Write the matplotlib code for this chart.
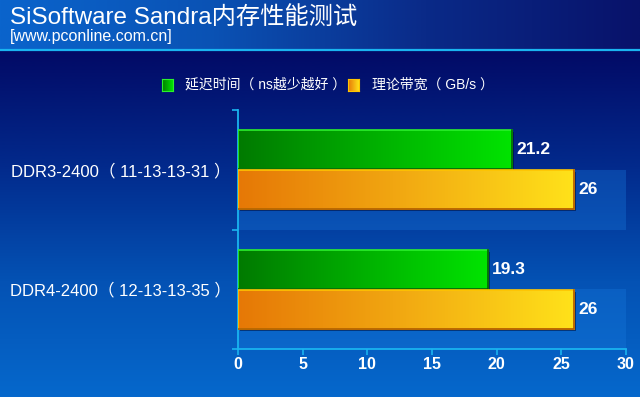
"""SiSoftware Sandra memory benchmark bar chart."""

import numpy as np
import matplotlib.pyplot as plt
import matplotlib.transforms as mtransforms
from matplotlib.colors import LinearSegmentedColormap
from matplotlib.patches import Rectangle

plt.rcParams['font.family'] = ['Liberation Sans', 'Noto Sans CJK SC', 'DejaVu Sans']

title = "SiSoftware Sandra内存性能测试"
subtitle = "[www.pconline.com.cn]"
categories = ["DDR3-2400（ 11-13-13-31 ）", "DDR4-2400（ 12-13-13-35 ）"]
latency = [21.2, 19.3]
bandwidth = [26, 26]
series_names = ["延迟时间（ ns越少越好 ）", "理论带宽（ GB/s ）"]
x_ticks = [0, 5, 10, 15, 20, 25, 30]

W, H = 640, 397
fig = plt.figure(figsize=(W / 100, H / 100), dpi=100)

# background: header + body gradients
bg = fig.add_axes([0, 0, 1, 1], zorder=-10)
bg.set_axis_off()
bg.set_xlim(0, W)
bg.set_ylim(H, 0)
header_cmap = LinearSegmentedColormap.from_list("hdr", ["#0a64cc", "#0a52b4", "#0a2a88", "#08126a"])
body_cmap = LinearSegmentedColormap.from_list("body", ["#020a66", "#022a8c", "#0452b4", "#0668cc"])
bg.imshow(np.linspace(0, 1, 256)[None, :], cmap=header_cmap, extent=(0, W, 49, 0),
          aspect="auto", interpolation="bilinear")
bg.imshow(np.linspace(0, 1, 256)[:, None], cmap=body_cmap, extent=(0, W, H, 51),
          aspect="auto", interpolation="bilinear", origin="upper")
bg.axhline(50, color="#1ab4f0", lw=1.6)

fig.text(10 / W, 1 - 17.5 / H, title, color="white", fontsize=17.5, va="center", ha="left")
fig.text(10 / W, 1 - 36 / H, subtitle, color="white", fontsize=11.5, va="center", ha="left")

ax = fig.add_axes([238 / W, 1 - 349 / H, 388 / W, 239 / H])
ax.set_facecolor("none")

green_cmap = LinearSegmentedColormap.from_list("g", ["#007a00", "#00b000", "#00e400"])
orange_cmap = LinearSegmentedColormap.from_list("o", ["#e67806", "#f2aa12", "#ffe21a"])
grad = np.linspace(0, 1, 256)[None, :]

centers = np.arange(len(categories))[::-1]
h = 0.325
shadow = ax.transData + mtransforms.ScaledTranslation(2 / 100, -2 / 100, fig.dpi_scale_trans)

for c, lat, bw in zip(centers, latency, bandwidth):
    # lighter band in lower half of each category
    ax.axhspan(c - 0.5, c, color="#1878dc", alpha=0.35, lw=0, zorder=1)
    for val, y0, cmap, edge, dark in [
        (lat, c + 0.005, green_cmap, "#2cf02c", "#006000"),
        (bw, c - 0.005 - h, orange_cmap, "#ffc400", "#b05a00"),
    ]:
        ax.add_patch(Rectangle((0, y0), val, h, facecolor="#000830", alpha=0.5,
                               lw=0, transform=shadow, zorder=2))
        ax.imshow(grad, cmap=cmap, extent=(0, val, y0, y0 + h), aspect="auto",
                  interpolation="bilinear", zorder=3)
        ax.add_patch(Rectangle((0, y0), val, h, facecolor="none", edgecolor=edge,
                               lw=1.2, zorder=4))
        ax.plot([val, val, 0], [y0 + h, y0, y0], color=dark, lw=1.2, zorder=4)
        ax.text(val + 0.35, y0 + h / 2, f"{val:g}", color="white", fontsize=12.5,
                fontweight="bold", va="center", ha="left", zorder=5)

ax.set_xlim(0, 30)
ax.set_ylim(-0.5, len(categories) - 0.5)
ax.set_aspect("auto")

for side in ["top", "right"]:
    ax.spines[side].set_visible(False)
for side in ["left", "bottom"]:
    ax.spines[side].set_color("#1ab4f0")
    ax.spines[side].set_linewidth(1.3)

ax.set_xticks(x_ticks)
ax.set_xticklabels([str(t) for t in x_ticks], color="white", fontsize=11.5, fontweight="bold")
ax.tick_params(axis="x", colors="#1ab4f0", length=4, width=1.2, pad=1.5, labelcolor="white")

ax.set_yticks(centers)
ax.set_yticklabels(categories, color="white", fontsize=12)
ax.set_yticks(np.arange(-0.5, len(categories), 1.0), minor=True)
ax.tick_params(axis="y", which="major", length=0, pad=5, labelcolor="white")
ax.tick_params(axis="y", which="minor", colors="#1ab4f0", length=4, width=1.2)

# legend drawn by hand so the items sit where the reference has them
leg_y = 1 - 85 / H
for x_mark, x_text, cmap, edge, name in [
    (162, 185, green_cmap, "#2cf02c", series_names[0]),
    (348, 372, orange_cmap, "#ffc400", series_names[1]),
]:
    lax = fig.add_axes([x_mark / W, 1 - 91 / H, 11 / W, 12 / H])
    lax.imshow(grad, cmap=cmap, aspect="auto", extent=(0, 1, 0, 1))
    lax.set_xticks([])
    lax.set_yticks([])
    for s in lax.spines.values():
        s.set_color(edge)
        s.set_linewidth(0.8)
    fig.text(x_text / W, leg_y, name, color="white", fontsize=10, va="center", ha="left")

fig.savefig("out.png", dpi=100)
